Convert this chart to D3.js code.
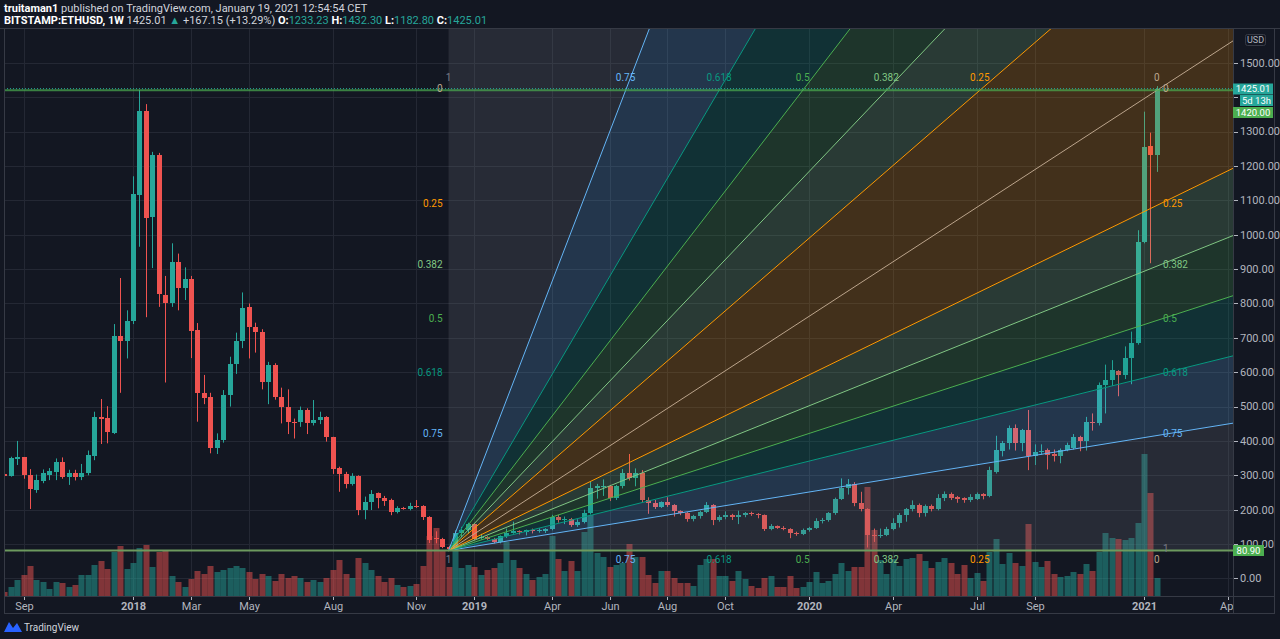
<!DOCTYPE html>
<html>
<head>
<meta charset="utf-8">
<title>BITSTAMP:ETHUSD 1W</title>
<script src="https://d3js.org/d3.v7.min.js"></script>
<style>
  body { margin: 0; background: #131722; }
  svg { display: block; font-family: Roboto, "Liberation Sans", sans-serif; }
</style>
</head>
<body>
<svg width="1280" height="639"></svg>
<script>
// weekly bars, Monday open
const weeks = [
  "2017-08-14","2017-08-21","2017-08-28","2017-09-04","2017-09-11","2017-09-18","2017-09-25","2017-10-02","2017-10-09","2017-10-16",
  "2017-10-23","2017-10-30","2017-11-06","2017-11-13","2017-11-20","2017-11-27","2017-12-04","2017-12-11","2017-12-18","2017-12-25",
  "2018-01-01","2018-01-08","2018-01-15","2018-01-22","2018-01-29","2018-02-05","2018-02-12","2018-02-19","2018-02-26","2018-03-05",
  "2018-03-12","2018-03-19","2018-03-26","2018-04-02","2018-04-09","2018-04-16","2018-04-23","2018-04-30","2018-05-07","2018-05-14",
  "2018-05-21","2018-05-28","2018-06-04","2018-06-11","2018-06-18","2018-06-25","2018-07-02","2018-07-09","2018-07-16","2018-07-23",
  "2018-07-30","2018-08-06","2018-08-13","2018-08-20","2018-08-27","2018-09-03","2018-09-10","2018-09-17","2018-09-24","2018-10-01",
  "2018-10-08","2018-10-15","2018-10-22","2018-10-29","2018-11-05","2018-11-12","2018-11-19","2018-11-26","2018-12-03","2018-12-10",
  "2018-12-17","2018-12-24","2018-12-31","2019-01-07","2019-01-14","2019-01-21","2019-01-28","2019-02-04","2019-02-11","2019-02-18",
  "2019-02-25","2019-03-04","2019-03-11","2019-03-18","2019-03-25","2019-04-01","2019-04-08","2019-04-15","2019-04-22","2019-04-29",
  "2019-05-06","2019-05-13","2019-05-20","2019-05-27","2019-06-03","2019-06-10","2019-06-17","2019-06-24","2019-07-01","2019-07-08",
  "2019-07-15","2019-07-22","2019-07-29","2019-08-05","2019-08-12","2019-08-19","2019-08-26","2019-09-02","2019-09-09","2019-09-16",
  "2019-09-23","2019-09-30","2019-10-07","2019-10-14","2019-10-21","2019-10-28","2019-11-04","2019-11-11","2019-11-18","2019-11-25",
  "2019-12-02","2019-12-09","2019-12-16","2019-12-23","2019-12-30","2020-01-06","2020-01-13","2020-01-20","2020-01-27","2020-02-03",
  "2020-02-10","2020-02-17","2020-02-24","2020-03-02","2020-03-09","2020-03-16","2020-03-23","2020-03-30","2020-04-06","2020-04-13",
  "2020-04-20","2020-04-27","2020-05-04","2020-05-11","2020-05-18","2020-05-25","2020-06-01","2020-06-08","2020-06-15","2020-06-22",
  "2020-06-29","2020-07-06","2020-07-13","2020-07-20","2020-07-27","2020-08-03","2020-08-10","2020-08-17","2020-08-24","2020-08-31",
  "2020-09-07","2020-09-14","2020-09-21","2020-09-28","2020-10-05","2020-10-12","2020-10-19","2020-10-26","2020-11-02","2020-11-09",
  "2020-11-16","2020-11-23","2020-11-30","2020-12-07","2020-12-14","2020-12-21","2020-12-28","2021-01-04","2021-01-11","2021-01-18"
];
const opens = [
  303,298,347,352,301,258,284,301,309,338, 296,306,296,307,356,470,466,422,705,690,
  750,1116,1360,1052,1231,824,800,920,844,870, 723,538,527,378,402,535,623,690,789,730,
  718,572,621,527,500,456,456,490,451,461, 469,410,320,304,275,298,199,221,248,235,
  228,194,205,201,212,211,179,117,116,91, 85,131,140,158,117,120,115,107,124,132,
  137,134,141,138,139,145,178,170,173,155, 165,191,262,265,268,233,268,308,293,308,
  228,218,208,222,214,196,191,172,182,194, 213,170,180,184,178,185,190,186,184,145,
  152,148,143,133,130,141,148,168,170,190, 232,262,275,220,201,125,122,126,145,160,
  184,201,213,189,210,201,233,247,236,233, 228,231,245,240,311,372,393,437,393,432,
  356,367,374,362,356,375,380,410,400,456, 451,563,577,603,592,640,684,980,1259,1233.23
];
const highs = [
  318,354,400,353,318,302,317,321,349,352, 316,316,333,372,485,522,501,740,874,780,
  1170,1421,1380,1241,1238,880,975,945,905,880, 743,592,540,422,548,645,715,832,800,744,
  725,630,626,555,550,465,500,495,519,485, 472,412,325,310,306,300,238,257,250,240,
  232,210,208,220,228,213,181,137,118,95, 140,150,162,160,130,123,118,125,145,165,
  140,142,145,146,146,185,185,180,176,172, 200,282,275,288,272,272,318,362,320,315,
  236,228,224,236,216,198,193,185,197,222, 216,184,195,188,197,193,194,190,186,158,
  154,152,146,136,145,150,175,176,193,235, 291,289,280,252,204,145,145,150,175,190,
  205,227,218,215,215,245,253,250,240,236, 245,250,248,325,415,400,445,448,435,490,
  390,390,378,375,378,395,420,415,470,480, 570,622,635,606,675,718,1013,1358,1297,1432.30
];
const lows = [
  286,296,330,290,202,249,277,286,286,290, 272,285,286,300,344,391,393,420,540,640,
  740,965,760,903,790,570,790,780,810,641, 456,507,364,362,395,500,595,670,640,657,
  550,507,520,451,420,407,441,420,445,449, 398,304,252,262,270,184,172,199,204,211,
  184,189,200,198,205,170,103,102,88,80.9, 84,120,130,112,113,112,102,102,118,130,
  128,125,131,133,132,140,162,158,150,150, 160,186,232,240,225,228,262,285,268,222,
  188,202,205,208,180,184,165,166,174,190, 155,165,172,170,158,178,182,175,138,140,
  144,140,117,124,126,136,144,160,165,185, 228,244,210,195,90,106,118,123,140,148,
  165,195,178,180,195,198,225,228,220,220, 222,228,230,236,305,355,375,372,370,315,
  330,360,317,340,335,370,375,370,372,430, 445,480,560,530,580,565,680,975,917,1182.80
];
const closes = [
  299,349,352,301,259,285,306,312,338,294, 306,296,307,358,469,463,426,705,690,750,
  1118,1360,1050,1231,827,800,920,845,870,721, 538,524,378,402,535,624,690,788,730,718,
  572,621,527,498,456,454,490,451,461,469, 410,318,304,275,298,199,223,245,233,225,
  194,205,203,212,210,178,113,114,91,85, 131,140,158,116,120,115,107,124,132,137,
  134,140,138,140,145,178,170,174,155,165, 191,262,268,268,233,268,308,293,308,228,
  218,208,222,214,196,191,172,182,194,213, 170,180,184,178,185,190,186,184,145,152,
  148,143,133,130,141,148,168,170,190,232, 262,275,220,201,125,122,126,145,160,184,
  201,213,189,210,201,233,247,233,231,228, 236,245,241,315,374,393,437,393,432,356,
  369,372,359,356,375,388,410,400,456,451, 562,577,606,592,640,684,980,1256,1232,1425.01
];
const volumes = [
  4,9,16,21,30,16,14,7,14,13, 9,11,21,21,31,35,27,44,50,27,
  33,48,51,29,44,46,20,14,9,17, 25,22,30,24,26,28,30,28,24,17,
  22,20,15,22,18,20,18,14,16,14, 18,26,36,22,18,38,33,26,20,14,
  18,11,9,10,12,30,60,68,45,29, 49,28,31,29,21,26,28,33,54,36,
  28,22,16,19,22,60,37,25,35,25, 64,81,43,39,29,31,33,52,39,39,
  21,13,25,25,18,13,13,10,31,37, 37,20,20,15,25,17,10,8,18,20,
  9,9,20,8,9,14,24,13,15,22, 33,25,29,29,109,66,36,22,37,30,
  37,38,42,35,28,34,38,33,22,31, 18,23,15,44,57,32,43,33,30,72,
  34,29,35,22,19,20,24,22,32,25, 44,63,58,57,56,58,73,142,103,18
];

const timeTicks = ["2017-09-04","2018-01-01","2018-03-05","2018-05-07","2018-08-06","2018-11-05","2019-01-07","2019-04-01","2019-06-03",
  "2019-08-05","2019-10-07","2020-01-06","2020-04-06","2020-07-06","2020-09-07","2021-01-04","2021-04-05"];
const timeLabels = ["Sep","2018","Mar","May","Aug","Nov","2019","Apr","Jun","Aug","Oct","2020","Apr","Jul","Sep","2021","Apr"];
const priceTicks = [0,100,200,300,400,500,600,700,800,900,1000,1100,1200,1300,1400,1500];
// the 1400 label sits under the last-price boxes and is not drawn
const hiddenPriceLabels = [1400];

// fib speed resistance fan
const fanDates = ["2018-12-10","2021-01-18"];
const fanPrices = [80.90, 1420.00];
const fanLevels = [0, 0.25, 0.382, 0.5, 0.618, 0.75, 1];
const fanLabels = ["0","0.25","0.382","0.5","0.618","0.75","1"];
const fanColors = ["#bca58c","#ff9800","#81c784","#4caf50","#089981","#64b5f6","#787b86"];
const hLines = [1420.00, 80.90];

const up = "#26a69a", down = "#ef5350";
const pane = { left: 4, right: 1233, top: 29, bottom: 596 };

const parse = d3.utcParse("%Y-%m-%d");
const svg = d3.select("svg");

const x = d3.scaleUtc()
  .domain([parse("2018-01-01"), parse("2021-01-04")])
  .range([133, 1144]);
const y = d3.scaleLinear().domain([0, 1500]).range([578.4, 62.85]);
const yv = d3.scaleLinear().domain([0, 142]).range([596, 454]);

const bars = weeks.map((w, i) => ({
  date: parse(w), o: opens[i], h: highs[i], l: lows[i], c: closes[i], v: volumes[i]
}));

svg.append("rect").attr("width", 1280).attr("height", 639).attr("fill", "#131722");

svg.append("defs").append("clipPath").attr("id", "pane")
  .append("rect")
  .attr("x", pane.left).attr("y", pane.top)
  .attr("width", pane.right - pane.left).attr("height", pane.bottom - pane.top);

const g = svg.append("g").attr("clip-path", "url(#pane)");

// grid
g.selectAll(".hgrid").data(priceTicks).join("line")
  .attr("x1", pane.left).attr("x2", pane.right)
  .attr("y1", d => Math.round(y(d)) + 0.5).attr("y2", d => Math.round(y(d)) + 0.5)
  .attr("stroke", "#242834");
g.selectAll(".vgrid").data(timeTicks).join("line")
  .attr("x1", d => Math.round(x(parse(d))) + 0.5).attr("x2", d => Math.round(x(parse(d))) + 0.5)
  .attr("y1", pane.top).attr("y2", pane.bottom)
  .attr("stroke", "#242834");

// volume
g.selectAll(".vol").data(bars).join("rect")
  .attr("x", d => Math.round(x(d.date)) - 2.5)
  .attr("width", 6)
  .attr("y", d => yv(d.v))
  .attr("height", d => 596 - yv(d.v))
  .attr("fill", d => d.c >= d.o ? up : down)
  .attr("fill-opacity", 0.5);

// candles
const candle = g.selectAll(".candle").data(bars).join("g");
candle.append("rect")
  .attr("x", d => Math.round(x(d.date)))
  .attr("width", 1)
  .attr("y", d => y(d.h))
  .attr("height", d => y(d.l) - y(d.h))
  .attr("fill", d => d.c >= d.o ? up : down);
candle.append("rect")
  .attr("x", d => Math.round(x(d.date)) - 2)
  .attr("width", 5)
  .attr("y", d => Math.round(y(Math.max(d.o, d.c))))
  .attr("height", d => Math.max(1, Math.round(y(Math.min(d.o, d.c))) - Math.round(y(Math.max(d.o, d.c)))))
  .attr("fill", d => d.c >= d.o ? up : down);

// fan
const ox = x(parse(fanDates[0])), oy = y(fanPrices[0]);
const ex = x(parse(fanDates[1])), ey = y(fanPrices[1]);
const k = 30;
const far = p => [ox + (p[0] - ox) * k, oy + (p[1] - oy) * k];

// rays ordered from the horizontal (price level 1) round to the vertical (time level 1)
const rays = [];
for (let i = fanLevels.length - 1; i >= 0; i--) {
  rays.push({ i, pt: [ex, ey + fanLevels[i] * (oy - ey)] });
}
for (let i = 1; i < fanLevels.length; i++) {
  rays.push({ i, pt: [ex - fanLevels[i] * (ex - ox), ey] });
}

const fan = g.append("g");
for (let r = 0; r < rays.length - 1; r++) {
  const a = rays[r], b = rays[r + 1];
  const ci = fanLevels[a.i] >= fanLevels[b.i] ? a.i : b.i;
  const fa = far(a.pt), fb = far(b.pt);
  fan.append("path")
    .attr("d", `M${ox},${oy}L${fa[0]},${fa[1]}L${fb[0]},${fb[1]}Z`)
    .attr("fill", fanColors[ci])
    .attr("fill-opacity", 0.2);
}
rays.filter(r => fanLevels[r.i] < 1).forEach(r => {
  const f = far(r.pt);
  fan.append("line")
    .attr("x1", ox).attr("y1", oy).attr("x2", f[0]).attr("y2", f[1])
    .attr("stroke", fanColors[r.i]).attr("stroke-width", 1);
});

// horizontal lines
g.append("line")
  .attr("x1", pane.left).attr("x2", pane.right)
  .attr("y1", y(hLines[0])).attr("y2", y(hLines[0]))
  .attr("stroke", "#4caf50").attr("stroke-opacity", 0.7).attr("stroke-width", 2);
g.append("line")
  .attr("x1", pane.left).attr("x2", pane.right)
  .attr("y1", y(closes[closes.length - 1])).attr("y2", y(closes[closes.length - 1]))
  .attr("stroke", up).attr("stroke-dasharray", "1,2");
g.append("line")
  .attr("x1", pane.left).attr("x2", pane.right)
  .attr("y1", y(hLines[1])).attr("y2", y(hLines[1]))
  .attr("stroke", "#6d9a5e").attr("stroke-width", 2);

// fan labels
const lab = g.append("g").style("font-size", "10px");
fanLevels.forEach((L, i) => {
  const py = ey + L * (oy - ey) - 2;
  const tx = ex - L * (ex - ox);
  if (L < 1) {
    lab.append("text").attr("x", ox - 6).attr("y", py).attr("dy", "0.35em")
      .attr("text-anchor", "end").attr("fill", fanColors[i]).text(fanLabels[i]);
  }
  lab.append("text").attr("x", ex + 6).attr("y", py).attr("dy", "0.35em")
    .attr("fill", fanColors[i]).text(fanLabels[i]);
  lab.append("text").attr("x", tx).attr("y", ey - 12.5).attr("dy", "0.35em")
    .attr("text-anchor", "middle").attr("fill", fanColors[i]).text(fanLabels[i]);
  lab.append("text").attr("x", tx).attr("y", oy + 9).attr("dy", "0.35em")
    .attr("text-anchor", "middle").attr("fill", fanColors[i]).text(fanLabels[i]);
});

// frame
const frame = svg.append("g").attr("stroke", "#363a45").attr("fill", "none");
frame.append("line").attr("x1", 0).attr("x2", 1280).attr("y1", 28.5).attr("y2", 28.5);
frame.append("rect").attr("x", 4.5).attr("y", 28.5).attr("width", 1270).attr("height", 585);
frame.append("line").attr("x1", 1233.5).attr("x2", 1233.5).attr("y1", 28.5).attr("y2", 614);
frame.append("line").attr("x1", 4.5).attr("x2", 1275).attr("y1", 596.5).attr("y2", 596.5);

// price axis
const pa = svg.append("g").style("font-size", "11px").attr("fill", "#b2b5be");
priceTicks.forEach(p => {
  pa.append("line").attr("x1", 1234).attr("x2", 1238)
    .attr("y1", Math.round(y(p)) + 0.5).attr("y2", Math.round(y(p)) + 0.5).attr("stroke", "#b2b5be");
  if (!hiddenPriceLabels.includes(p)) {
    pa.append("text").attr("x", 1240).attr("y", y(p)).attr("dy", "0.35em").text(d3.format(".2f")(p));
  }
});

pa.append("rect").attr("x", 1245.5).attr("y", 34.5).attr("width", 20).attr("height", 11).attr("rx", 2)
  .attr("fill", "#131722").attr("stroke", "#363a45");
pa.append("text").attr("x", 1255.5).attr("y", 40).attr("dy", "0.35em").attr("text-anchor", "middle")
  .style("font-size", "9px").text("USD");

function priceBox(yTop, x0, w, fill, txt) {
  pa.append("rect").attr("x", x0).attr("y", yTop).attr("width", w).attr("height", 11).attr("fill", fill);
  pa.append("text").attr("x", x0 + w / 2).attr("y", yTop + 5.5).attr("dy", "0.35em")
    .attr("text-anchor", "middle").attr("fill", "#ffffff").style("font-size", "9.5px").text(txt);
}
priceBox(83.5, 1233, 40, up, d3.format(".2f")(closes[closes.length - 1]));
priceBox(95, 1240, 33, up, "5d 13h");
priceBox(107, 1233, 40, "#4caf50", d3.format(".2f")(hLines[0]));
priceBox(545, 1233, 31, "#4caf50", d3.format(".2f")(hLines[1]));

// time axis
svg.append("defs").append("clipPath").attr("id", "taxis")
  .append("rect").attr("x", 4).attr("y", 596).attr("width", 1229).attr("height", 18);
const ta = svg.append("g").attr("clip-path", "url(#taxis)").style("font-size", "11px").attr("fill", "#b2b5be");
timeTicks.forEach((t, i) => {
  const tx = Math.round(x(parse(t))) + 0.5;
  ta.append("line").attr("x1", tx).attr("x2", tx).attr("y1", 597).attr("y2", 600).attr("stroke", "#b2b5be");
  ta.append("text").attr("x", tx).attr("y", 606).attr("dy", "0.35em").attr("text-anchor", "middle")
    .style("font-weight", /^\d+$/.test(timeLabels[i]) ? "bold" : "normal")
    .text(timeLabels[i]);
});

// header
const h1 = svg.append("text").attr("x", 4).attr("y", 11.5).style("font-size", "11px").attr("fill", "#d1d4dc");
h1.append("tspan").style("font-weight", "bold").attr("fill", "#ffffff").text("truitaman1");
h1.append("tspan").text(" published on TradingView.com, January 19, 2021 12:54:54 CET");

const h2 = svg.append("text").attr("x", 4).attr("y", 23.5).style("font-size", "11px").attr("fill", "#d1d4dc");
h2.append("tspan").style("font-weight", "bold").attr("fill", "#ffffff").text("BITSTAMP:ETHUSD, 1W");
h2.append("tspan").text(" 1425.01 ");
h2.append("tspan").attr("fill", up).text("▲");
h2.append("tspan").text(" +167.15 (+13.29%) ");
[["O:", "1233.23"], ["H:", "1432.30"], ["L:", "1182.80"], ["C:", "1425.01"]].forEach(([a, b]) => {
  h2.append("tspan").style("font-weight", "bold").attr("fill", "#ffffff").text(a);
  h2.append("tspan").attr("fill", up).text(b + " ");
});

// footer logo
svg.append("path")
  .attr("d", "M4,632 L9,622 L13,628 L17,623 L22,632 Z")
  .attr("fill", "#2962ff");
svg.append("text").attr("x", 24).attr("y", 630.5).style("font-size", "10px").attr("fill", "#d1d4dc").text("TradingView");
</script>
</body>
</html>
